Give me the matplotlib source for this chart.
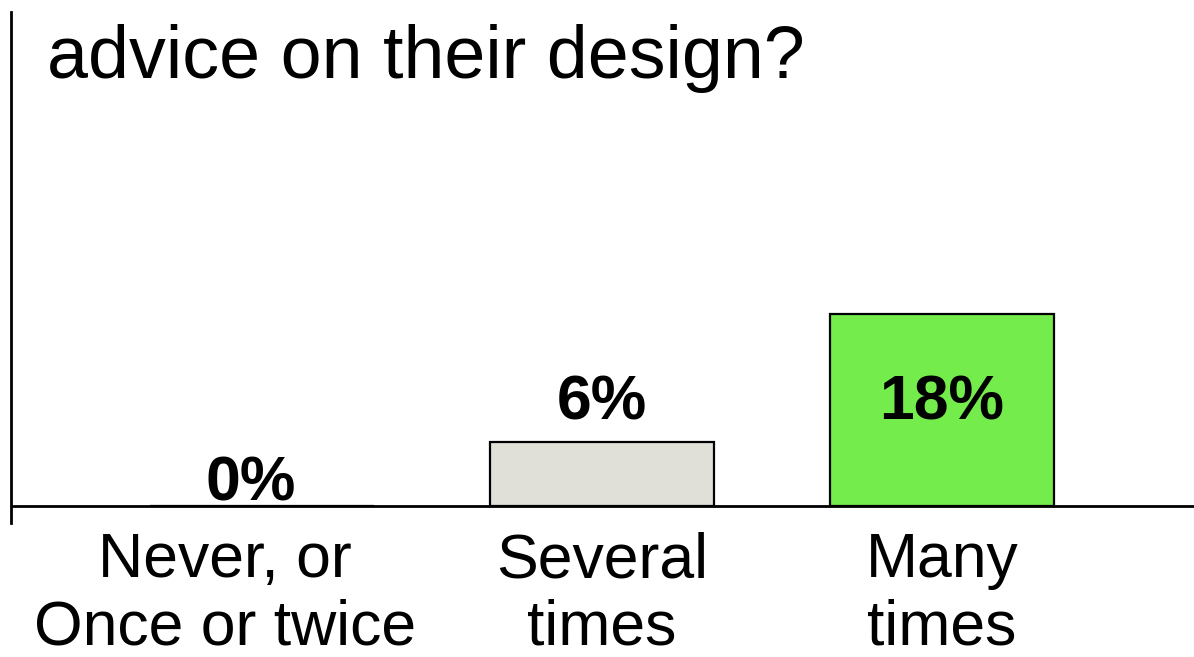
import matplotlib
matplotlib.use("Agg")
from matplotlib import pyplot as plt
from matplotlib.transforms import ScaledTranslation

# Dati
categories = ["Never, or\nOnce or twice", "Several\ntimes", "Many\ntimes"]
values = [0, 6, 18]
value_labels = ["0%", "6%", "18%"]
label_y = [0.55, 8.15, 8.15]
bar_colors = ["#e0e0d8", "#e0e0d8", "#73ec4c"]
title = "advice on their design?"

plt.rcParams["font.family"] = ["Liberation Sans", "DejaVu Sans"]

fig = plt.figure(figsize=(11.94, 6.57), dpi=100)
ax = fig.add_axes([11 / 1194, 134 / 657, 1 - 11 / 1194, 511 / 657])

x = list(range(len(categories)))
ax.bar(x, values, width=0.659, color=bar_colors, edgecolor="black", linewidth=1.6, zorder=2)
ax.axhline(0, color="black", linewidth=2.0, zorder=3)

for xi, lab, ly, dx in zip(x, value_labels, label_y, [-11, 0, 0]):
    t = ax.text(xi, ly, lab, ha="center", va="baseline", fontsize=45, fontweight="bold", zorder=4)
    t.set_transform(t.get_transform() + ScaledTranslation(dx / 100, 0, fig.dpi_scale_trans))

ax.set_xlim(-0.738, 2.741)
ax.set_ylim(-1.59, 46.3)

ax.set_xticks(x)
ax.set_xticklabels(categories, fontsize=45, linespacing=1.17)
ax.tick_params(axis="x", length=0, pad=6)
ax.set_yticks([])
for lbl, dx in zip(ax.get_xticklabels(), [-37, 0, 0]):
    lbl.set_transform(lbl.get_transform() + ScaledTranslation(dx / 100, 0, fig.dpi_scale_trans))

for s in ["top", "right", "bottom"]:
    ax.spines[s].set_visible(False)
ax.spines["left"].set_linewidth(2.0)

fig.text(47 / 1194, 1 - 78 / 657, title, fontsize=53, ha="left", va="baseline")

plt.savefig("out.png", dpi=100)
